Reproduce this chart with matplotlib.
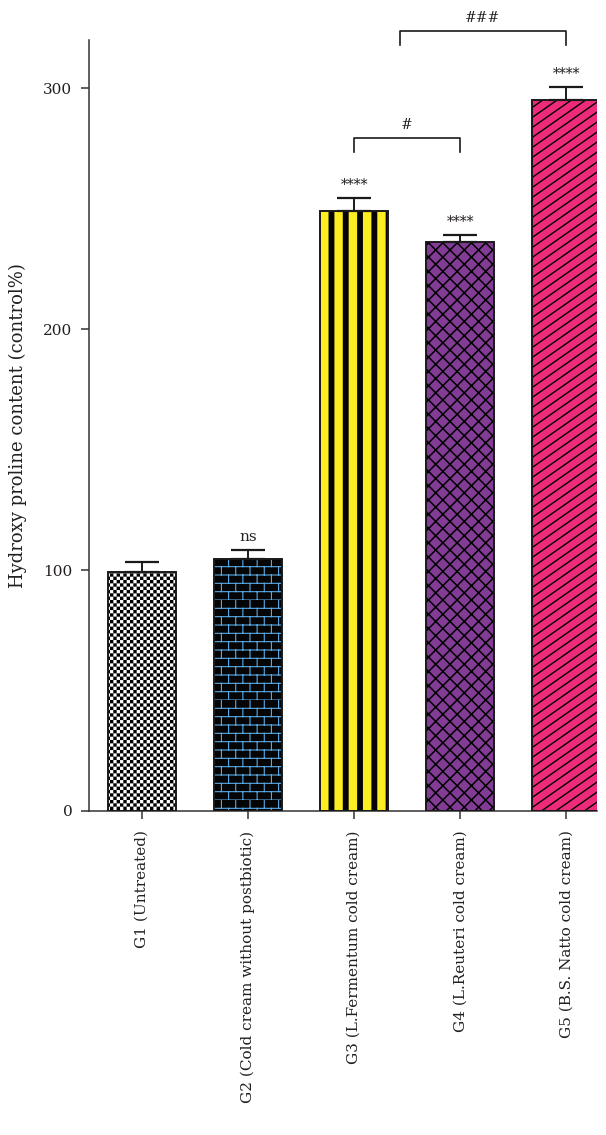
import warnings
warnings.filterwarnings("ignore")
import numpy as np
import matplotlib
matplotlib.use("Agg")
import matplotlib.pyplot as plt
import matplotlib.hatch as mhatch
from matplotlib.path import Path

# ---------------- data ----------------
groups = ["G1 (Untreated)", "G2 (Cold cream without postbiotic)",
          "G3 (L.Fermentum cold cream)", "G4 (L.Reuteri cold cream)",
          "G5 (B.S. Natto cold cream)"]
values = [99.1, 104.5, 249.0, 236.1, 295.1]
errors = [4.2, 4.0, 5.3, 3.0, 5.2]
stars = ["", "ns", "****", "****", "****"]
yticks = [0, 100, 200, 300]
ylabel = "Hydroxy proline content (control%)"
# comparison brackets: (left position, right position, label)
bracket_pairs = [(2, 3, "#"), (2.43, 4, "###")]
bracket_levels = [279.2, 323.6]

# ---------------- custom hatch patterns ----------------
class CheckerHatch(mhatch.HatchPatternBase):
    def __init__(self, hatch, density):
        self.n = 30 if 'k' in hatch else 0
        self.cells = [(i, j) for i in range(self.n) for j in range(self.n)
                      if (i + j) % 2 == 0]
        self.num_vertices = len(self.cells) * 5

    def set_vertices_and_codes(self, vertices, codes):
        s = 1.0 / self.n
        for k, (i, j) in enumerate(self.cells):
            x0, y0 = i * s, j * s
            vertices[5 * k:5 * k + 5] = [(x0, y0), (x0 + s, y0), (x0 + s, y0 + s),
                                         (x0, y0 + s), (x0, y0)]
            codes[5 * k:5 * k + 5] = [Path.MOVETO, Path.LINETO, Path.LINETO,
                                      Path.LINETO, Path.CLOSEPOLY]


class StripeHatch(mhatch.HatchPatternBase):
    def __init__(self, hatch, density):
        self.n = 7 if 'v' in hatch else 0
        self.w = 0.058
        self.num_vertices = self.n * 5

    def set_vertices_and_codes(self, vertices, codes):
        for k in range(self.n):
            x0 = k / self.n
            vertices[5 * k:5 * k + 5] = [(x0, -0.05), (x0 + self.w, -0.05),
                                         (x0 + self.w, 1.05), (x0, 1.05), (x0, -0.05)]
            codes[5 * k:5 * k + 5] = [Path.MOVETO, Path.LINETO, Path.LINETO,
                                      Path.LINETO, Path.CLOSEPOLY]


class BrickHatch(mhatch.HatchPatternBase):
    def __init__(self, hatch, density):
        on = 'b' in hatch
        self.rows = 12 if on else 0
        self.cols = 7 if on else 0
        self.num_vertices = (self.rows * 2 + self.rows * self.cols * 2)

    def set_vertices_and_codes(self, vertices, codes):
        v = []
        c = []
        for i in range(self.rows):
            y = i / self.rows
            v += [(0.0, y), (1.0, y)]
            c += [Path.MOVETO, Path.LINETO]
            off = 0.5 / self.cols if i % 2 else 0.0
            for j in range(self.cols):
                x = j / self.cols + off
                v += [(x, y), (x, y + 1.0 / self.rows)]
                c += [Path.MOVETO, Path.LINETO]
        vertices[:] = v
        codes[:] = c


class SlantHatch(mhatch.HatchPatternBase):
    def __init__(self, hatch, density):
        on = 'q' in hatch
        self.offsets = np.arange(-8, 11) / 10.0 if on else []
        self.num_vertices = len(self.offsets) * 2

    def set_vertices_and_codes(self, vertices, codes):
        for k, c0 in enumerate(self.offsets):
            vertices[2 * k] = (0.0, c0)
            vertices[2 * k + 1] = (1.0, c0 + 0.7)
            codes[2 * k] = Path.MOVETO
            codes[2 * k + 1] = Path.LINETO


class CrossHatch(mhatch.HatchPatternBase):
    def __init__(self, hatch, density):
        on = 'z' in hatch
        self.n = 7 if on else 0
        self.num_vertices = (2 * self.n + 1) * 2 * 2 if on else 0

    def set_vertices_and_codes(self, vertices, codes):
        v = []
        c = []
        for k in range(-self.n, self.n + 1):
            c0 = k / self.n
            v += [(0.0, c0), (1.0, c0 + 1.0)]
            v += [(0.0, c0 + 1.0), (1.0, c0)]
            c += [Path.MOVETO, Path.LINETO, Path.MOVETO, Path.LINETO]
        vertices[:] = v
        codes[:] = c


mhatch._hatch_types.extend([CheckerHatch, StripeHatch, BrickHatch, SlantHatch,
                            CrossHatch])

# ---------------- styles ----------------
face_colors = ["white", "#050505", "#fcee21", "#833c95", "#ee2a7b"]
hatch_colors = ["black", "#5aa9e6", "#050505", "black", "black"]
hatches = ["k", "b", "v", "z", "q"]
hatch_lws = [0.05, 0.8, 0.05, 1.1, 1.0]

plt.rcParams['font.family'] = ['DejaVu Serif']
text_color = "#231f20"

fig = plt.figure(figsize=(6.06, 11.35), dpi=100)
ax = fig.add_axes([89 / 606, 1 - 811 / 1135, (597 - 89) / 606, (811 - 40) / 1135])

x = np.arange(len(groups))
bar_w = 0.64
for i in range(len(groups)):
    plt.rcParams['hatch.linewidth'] = hatch_lws[i]
    b = ax.bar(x[i], values[i], width=bar_w, color=face_colors[i],
               edgecolor=hatch_colors[i], linewidth=0, hatch=hatches[i], zorder=2)
    for p in b:
        try:
            p.set_hatch_linewidth(hatch_lws[i])
        except AttributeError:
            pass
    ax.bar(x[i], values[i], width=bar_w, fill=False, edgecolor="#1a1a1a",
           linewidth=1.4, zorder=3)

ax.errorbar(x, values, yerr=[np.zeros(len(values)), errors], fmt='none',
            ecolor='#1a1a1a', elinewidth=1.4, capsize=12.5, capthick=1.6, zorder=4)

# significance marks
for i, s in enumerate(stars):
    if s:
        ax.text(x[i], values[i] + errors[i] + 2.5, s, ha='center', va='bottom',
                fontsize=11 if s == "ns" else 10, color=text_color, clip_on=False)

# brackets
for (l, r, lab), lev in zip(bracket_pairs, bracket_levels):
    ax.plot([l, l, r, r], [lev - 5.6, lev, lev, lev - 5.6], color='#1a1a1a',
            lw=1.2, clip_on=False, zorder=5)
    ax.text((l + r) / 2, lev + 2.5, lab, ha='center', va='bottom', fontsize=10,
            color=text_color, clip_on=False)

ax.set_xlim(-0.5, 4.29)
ax.set_ylim(0, 320)
ax.set_yticks(yticks)
ax.set_xticks(x)
ax.set_xticklabels(groups, rotation=90, ha='center', va='top')
ax.tick_params(axis='both', colors='#333333', labelcolor=text_color, labelsize=11,
               length=6, width=1.1, direction='out')
ax.tick_params(axis='x', pad=8)
ax.tick_params(axis='y', pad=6)
ax.set_ylabel(ylabel, fontsize=13, color=text_color)
ax.yaxis.set_label_coords(-0.122, 0.5)
for side in ['top', 'right']:
    ax.spines[side].set_visible(False)
for side in ['left', 'bottom']:
    ax.spines[side].set_color('#333333')
    ax.spines[side].set_linewidth(1.1)

fig.savefig("out.png", dpi=100)
